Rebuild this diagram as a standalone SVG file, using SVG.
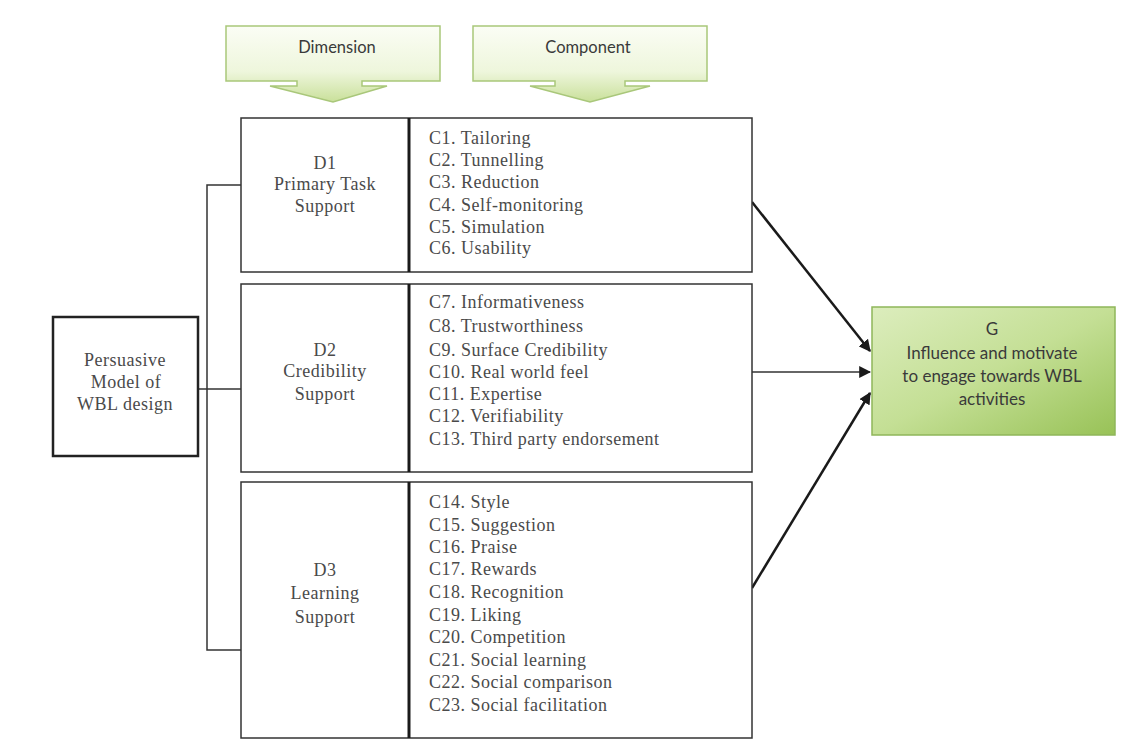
<svg xmlns="http://www.w3.org/2000/svg" width="1127" height="741" viewBox="0 0 1127 741">
  <defs>
    <linearGradient id="bannerGrad" x1="0" y1="0" x2="0" y2="1">
      <stop offset="0" stop-color="#fbfdf5"/>
      <stop offset="0.6" stop-color="#eef6dc"/>
      <stop offset="1" stop-color="#c9e09a"/>
    </linearGradient>
    <linearGradient id="gGrad" x1="0" y1="0" x2="1" y2="1">
      <stop offset="0" stop-color="#dcedbd"/>
      <stop offset="0.5" stop-color="#c4df95"/>
      <stop offset="1" stop-color="#98c257"/>
    </linearGradient>
    <marker id="arrowB" viewBox="0 0 10 10" refX="9" refY="5" markerWidth="12" markerHeight="12" markerUnits="userSpaceOnUse" orient="auto">
      <path d="M0,0 L10,5 L0,10 Z" fill="#1a1a1a"/>
    </marker>
  </defs>
  <style>
    .box { fill: #ffffff; stroke: #333333; stroke-width: 1.5; }
    .outer { fill: #ffffff; stroke: #222222; stroke-width: 2.5; }
    .divider { stroke: #1a1a1a; stroke-width: 3; }
    .serif { font-family: "Liberation Serif", "Times New Roman", serif; font-size: 18px; fill: #4a4a4a; letter-spacing: 0.5px; }
    .mid { text-anchor: middle; }
    .sans { font-family: Lato, "Liberation Sans", sans-serif; fill: #3a3a3a; text-anchor: middle; }
    .banner { fill: url(#bannerGrad); stroke: #a9c77a; stroke-width: 1.5; }
    .line { stroke: #333333; stroke-width: 1.5; fill: none; }
    .conn { stroke: #1a1a1a; stroke-width: 2.5; fill: none; }
  </style>
  <rect width="1127" height="741" fill="#ffffff"/>

  <g id="banner-dimension">
    <path class="banner" d="M226,26 H440 V81 H362 V86 H387 L333,102 L270,86 H297 V81 H226 Z"/>
    <text class="sans" x="337" y="53" font-size="16.5">Dimension</text>
  </g>
  <g id="banner-component">
    <path class="banner" d="M473,26 H707 V81 H625 V86 H650 L590,102 L530,86 H555 V81 H473 Z"/>
    <text class="sans" x="588" y="53" font-size="16.5">Component</text>
  </g>

  <g id="connectors">
    <polyline class="line" points="241,185 207,185 207,650 241,650"/>
    <line class="line" x1="198" y1="389" x2="241" y2="389"/>
    <line class="conn" x1="752" y1="202" x2="870" y2="351" marker-end="url(#arrowB)"/>
    <line class="line" x1="752" y1="372" x2="870" y2="372" marker-end="url(#arrowB)"/>
    <line class="conn" x1="752" y1="588" x2="870" y2="393" marker-end="url(#arrowB)"/>
  </g>

  <g id="persuasive">
    <rect class="outer" x="53" y="317" width="145" height="139"/>
    <text class="serif mid" x="125" y="366">Persuasive</text>
    <text class="serif mid" x="126" y="388">Model of</text>
    <text class="serif mid" x="125" y="410">WBL design</text>
  </g>

  <g id="d1">
    <rect class="box" x="241" y="118" width="511" height="154"/>
    <line class="divider" x1="409" y1="118" x2="409" y2="272"/>
    <text class="serif mid" x="325" y="169">D1</text>
    <text class="serif mid" x="325" y="190">Primary Task</text>
    <text class="serif mid" x="325" y="212">Support</text>
    <text class="serif" x="429" y="144">C1. Tailoring</text>
    <text class="serif" x="429" y="166">C2. Tunnelling</text>
    <text class="serif" x="429" y="188">C3. Reduction</text>
    <text class="serif" x="429" y="211">C4. Self-monitoring</text>
    <text class="serif" x="429" y="233">C5. Simulation</text>
    <text class="serif" x="429" y="254">C6. Usability</text>
  </g>

  <g id="d2">
    <rect class="box" x="241" y="284" width="511" height="188"/>
    <line class="divider" x1="409" y1="284" x2="409" y2="472"/>
    <text class="serif mid" x="325" y="356">D2</text>
    <text class="serif mid" x="325" y="377">Credibility</text>
    <text class="serif mid" x="325" y="400">Support</text>
    <text class="serif" x="429" y="308">C7. Informativeness</text>
    <text class="serif" x="429" y="332">C8. Trustworthiness</text>
    <text class="serif" x="429" y="356">C9. Surface Credibility</text>
    <text class="serif" x="429" y="378">C10. Real world feel</text>
    <text class="serif" x="429" y="400">C11. Expertise</text>
    <text class="serif" x="429" y="422">C12. Verifiability</text>
    <text class="serif" x="429" y="445">C13. Third party endorsement</text>
  </g>

  <g id="d3">
    <rect class="box" x="241" y="482" width="511" height="256"/>
    <line class="divider" x1="409" y1="482" x2="409" y2="738"/>
    <text class="serif mid" x="325" y="576">D3</text>
    <text class="serif mid" x="325" y="599">Learning</text>
    <text class="serif mid" x="325" y="623">Support</text>
    <text class="serif" x="429" y="508">C14. Style</text>
    <text class="serif" x="429" y="531">C15. Suggestion</text>
    <text class="serif" x="429" y="553">C16. Praise</text>
    <text class="serif" x="429" y="575">C17. Rewards</text>
    <text class="serif" x="429" y="598">C18. Recognition</text>
    <text class="serif" x="429" y="621">C19. Liking</text>
    <text class="serif" x="429" y="643">C20. Competition</text>
    <text class="serif" x="429" y="666">C21. Social learning</text>
    <text class="serif" x="429" y="688">C22. Social comparison</text>
    <text class="serif" x="429" y="711">C23. Social facilitation</text>
  </g>

  <g id="goal">
    <rect x="872" y="307" width="243" height="128" fill="url(#gGrad)" stroke="#8fb65a" stroke-width="1.5"/>
    <text class="sans" x="992" y="335" font-size="17">G</text>
    <text class="sans" x="992" y="359" font-size="17">Influence and motivate</text>
    <text class="sans" x="992" y="382" font-size="17">to engage towards WBL</text>
    <text class="sans" x="992" y="405" font-size="17">activities</text>
  </g>
</svg>
